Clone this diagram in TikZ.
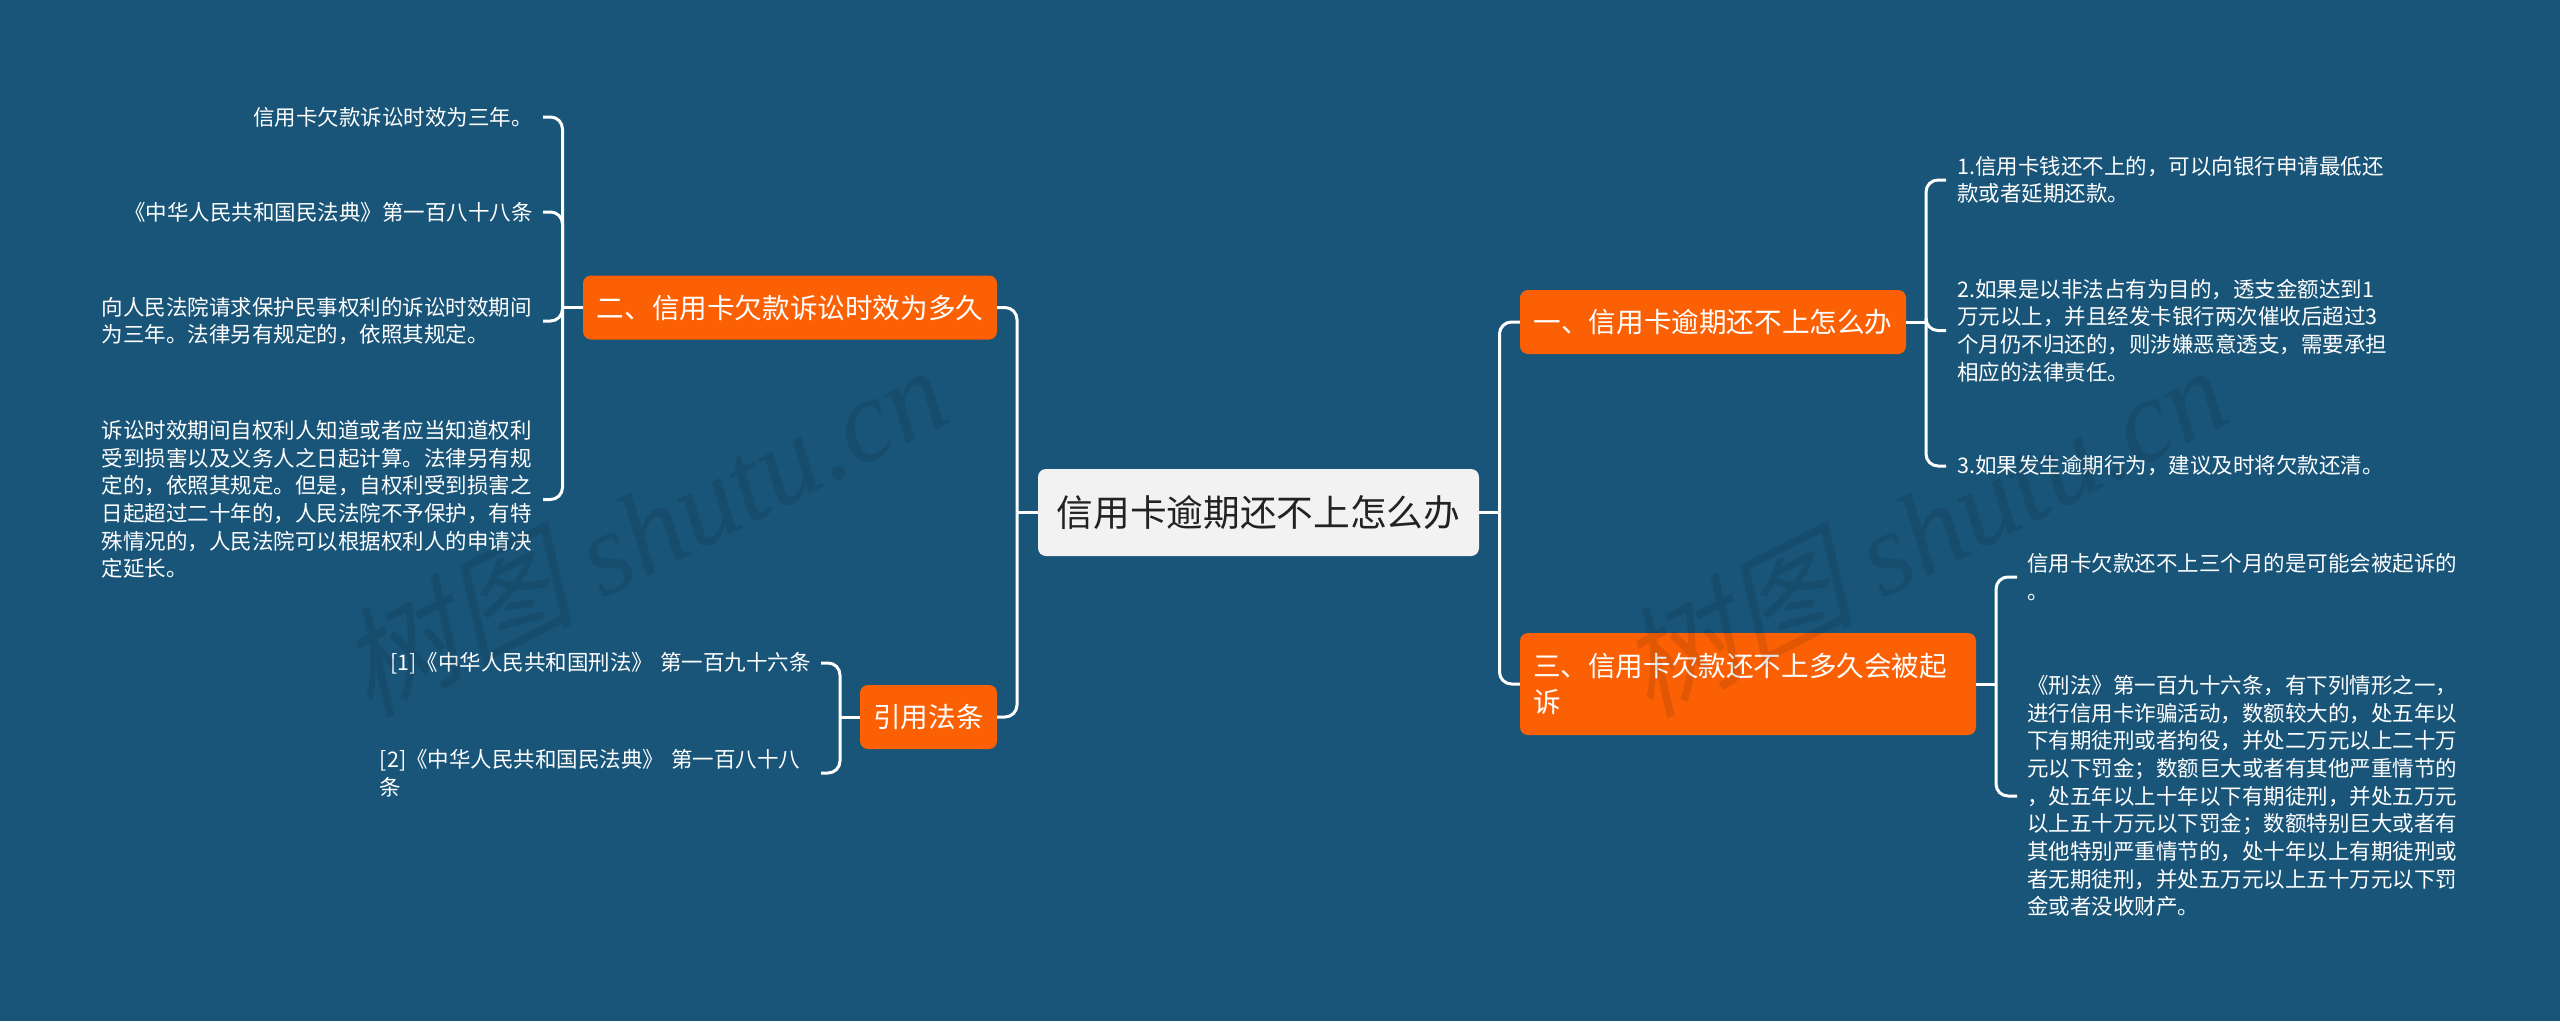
\documentclass[tikz,border=0pt]{standalone}
\usepackage{fontspec}
\setmainfont{Noto Sans CJK SC}
\newfontfamily\wmcjk[FakeSlant=0.25]{Noto Sans CJK SC}
\newfontfamily\wmlat{Liberation Serif}[ItalicFont=* Italic]
\definecolor{bgblue}{HTML}{195579}
\definecolor{topicorange}{HTML}{FB6104}
\definecolor{rootgrey}{HTML}{F2F2F2}
\definecolor{inkdark}{HTML}{222222}
\tikzset{
  x=1pt,y=-1pt,
  conn/.style={draw=white,line width=3pt,rounded corners=12pt},
  rootbox/.style={fill=rootgrey,text=inkdark,rounded corners=8pt,minimum width=441pt,minimum height=87pt,inner sep=0pt,font=\fontsize{36.7}{44}\selectfont},
  topicbox/.style={fill=topicorange,text=white,rounded corners=8pt,inner sep=0pt,minimum height=64pt,font=\fontsize{27.6}{36}\selectfont},
  leafleft/.style={text=white,anchor=east,inner xsep=10pt,inner ysep=0pt,text width=431pt,align=left,font=\fontsize{21.5}{27.7}\selectfont},
  leafright/.style={leafleft,anchor=west,inner xsep=11pt},
  leafend/.style={leafleft,align=right},
  wmark/.style={text=black,text opacity=0.1,rotate=27,anchor=center,inner sep=0pt},
}
\begin{document}
\begin{tikzpicture}
\useasboundingbox (0,0) rectangle (2560,1021);
\fill[bgblue] (0,0) rectangle (2560,1021);

\node[rootbox] (root) at (1258.5,512.5) {信用卡逾期还不上怎么办};
\node[topicbox,minimum width=386pt] (b1) at (1713,322) {一、信用卡逾期还不上怎么办};
\node[topicbox,minimum width=414pt] (b2) at (790,307.5) {二、信用卡欠款诉讼时效为多久};
\node[topicbox,minimum width=456pt,minimum height=102pt,text width=430pt,align=left] (b3) at (1748,684) {三、信用卡欠款还不上多久会被起\\诉};
\node[topicbox,minimum width=137pt] (b4) at (928.5,717) {引用法条};

\node[leafend] (l21) at (543,117) {信用卡欠款诉讼时效为三年。};
\node[leafend] (l22) at (543,212) {《中华人民共和国民法典》第一百八十八条};
\node[leafleft] (l23) at (543,321) {向人民法院请求保护民事权利的诉讼时效期间\\为三年。法律另有规定的，依照其规定。};
\node[leafleft] (l24) at (543,499.5) {诉讼时效期间自权利人知道或者应当知道权利\\受到损害以及义务人之日起计算。法律另有规\\定的，依照其规定。但是，自权利受到损害之\\日起超过二十年的，人民法院不予保护，有特\\殊情况的，人民法院可以根据权利人的申请决\\定延长。};
\node[leafend] (l41) at (821,663) {[1]《中华人民共和国刑法》 第一百九十六条};
\node[leafleft] (l42) at (821,773) {[2]《中华人民共和国民法典》 第一百八十八\\条};
\node[leafright] (l11) at (1946,180) {1.信用卡钱还不上的，可以向银行申请最低还\\款或者延期还款。};
\node[leafright] (l12) at (1946,330.5) {2.如果是以非法占有为目的，透支金额达到1\\万元以上，并且经发卡银行两次催收后超过3\\个月仍不归还的，则涉嫌恶意透支，需要承担\\相应的法律责任。};
\node[leafright] (l13) at (1946,466) {3.如果发生逾期行为，建议及时将欠款还清。};
\node[leafright,inner xsep=10pt] (l31) at (2017,577) {信用卡欠款还不上三个月的是可能会被起诉的\\。};
\node[leafright,inner xsep=10pt] (l32) at (2017,796) {《刑法》第一百九十六条，有下列情形之一，\\进行信用卡诈骗活动，数额较大的，处五年以\\下有期徒刑或者拘役，并处二万元以上二十万\\元以下罚金；数额巨大或者有其他严重情节的\\，处五年以上十年以下有期徒刑，并处五万元\\以上五十万元以下罚金；数额特别巨大或者有\\其他特别严重情节的，处十年以上有期徒刑或\\者无期徒刑，并处五万元以上五十万元以下罚\\金或者没收财产。};

\coordinate (tl) at (1017,512.5);
\coordinate (tr) at (1499.5,512.5);
\coordinate (t1) at (1926,322);
\coordinate (t2) at (562.5,307.5);
\coordinate (t3) at (1996,684);
\coordinate (t4) at (840,717);

\draw[conn] (root.west) -- (tl);
\draw[conn] (root.east) -- (tr);
\draw[conn] (tl) |- (b2.east);
\draw[conn] (tl) |- (b4.east);
\draw[conn] (tr) |- (b1.west);
\draw[conn] (tr) |- (b3.west);

\draw[conn] (b1.east) -- (t1);
\draw[conn] (t1) |- (l11.west);
\draw[conn] (t1) |- (l12.west);
\draw[conn] (t1) |- (l13.west);

\draw[conn] (b2.west) -- (t2);
\draw[conn] (t2) |- (l21.east);
\draw[conn] (t2) |- (l22.east);
\draw[conn] (t2) |- (l23.east);
\draw[conn] (t2) |- (l24.east);

\draw[conn] (b3.east) -- (t3);
\draw[conn] (t3) |- (l31.west);
\draw[conn] (t3) |- (l32.west);

\draw[conn] (b4.west) -- (t4);
\draw[conn] (t4) |- (l41.east);
\draw[conn] (t4) |- (l42.east);

\node[wmark] (wm1) at (642,529) {\fontsize{118}{118}\selectfont\wmcjk 树图\ \wmlat\itshape shutu.cn};
\node[wmark] (wm2) at (1922,529) {\fontsize{118}{118}\selectfont\wmcjk 树图\ \wmlat\itshape shutu.cn};
\end{tikzpicture}
\end{document}
